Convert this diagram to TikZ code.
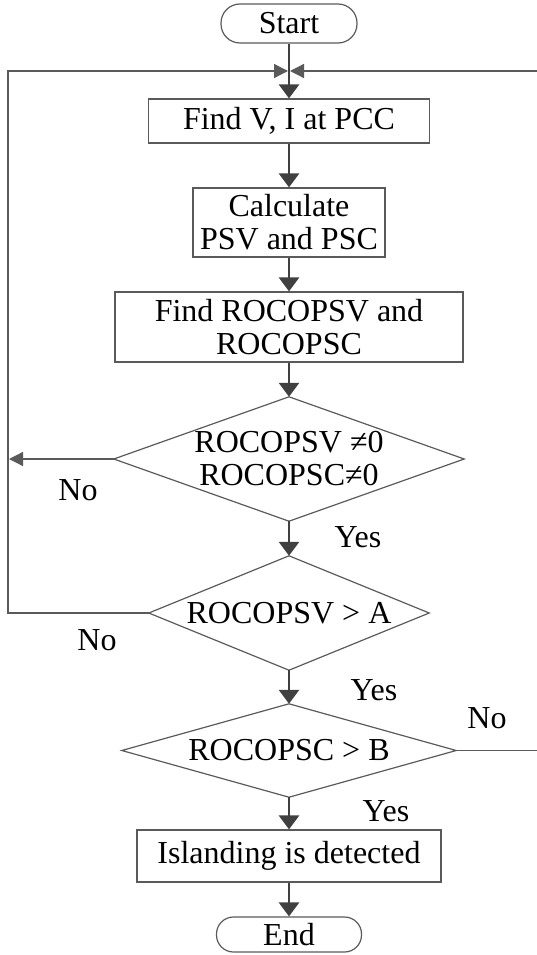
\documentclass[tikz,border=0pt]{standalone}
\usepackage{fontspec}
\setmainfont{Liberation Serif}
\usetikzlibrary{arrows.meta}
\definecolor{linegray}{HTML}{404040}
\definecolor{boxgray}{HTML}{5A5A5A}
\begin{document}
\begin{tikzpicture}[x=1pt, y=-1pt, font=\fontsize{32}{33}\selectfont]
        \tikzstyle{term} = [draw=boxgray, line width=1.2pt, inner sep=0pt, align=center]
        \tikzstyle{proc} = [draw=boxgray, line width=1.2pt, inner sep=0pt, align=center]
        \tikzstyle{dec} = [inner sep=0pt, align=center]
        \tikzstyle{diam} = [draw=boxgray, line width=1.2pt]
        \tikzstyle{arr} = [draw=linegray, line width=2.8pt, -{Triangle[width=20pt, length=14pt]}]
        \tikzstyle{fb} = [draw=boxgray, line width=1.3pt, -{Triangle[width=14pt, length=14pt]}, shorten >=1pt]
        \useasboundingbox (0,0) rectangle (536,955);
        \node[term, minimum width=136, minimum height=39, rounded corners=19pt] (start) at (289,23.5) {Start};
        \node[proc, minimum width=281, minimum height=44] (find) at (289,121) {Find V, I at PCC};
        \node[proc, minimum width=192, minimum height=69] (calc) at (289,222.5) {Calculate\\PSV and PSC};
        \node[proc, minimum width=348, minimum height=70] (roco) at (289,327) {Find ROCOPSV and\\ROCOPSC};
        \node[dec, minimum width=350, minimum height=124] (d1) at (289,459) {ROCOPSV ≠0\\ROCOPSC≠0};
        \node[dec, minimum width=280, minimum height=114] (d2) at (289,613) {ROCOPSV > A};
        \node[dec, minimum width=334, minimum height=93] (d3) at (289,750.5) {ROCOPSC > B};
        \node[proc, minimum width=304, minimum height=52] (isl) at (289,856) {Islanding is detected};
        \node[term, minimum width=145, minimum height=35, rounded corners=17pt] (end) at (289,934.5) {End};
        \foreach \d in {d1,d2,d3}
          \draw[diam] (\d.north) -- (\d.east) -- (\d.south) -- (\d.west) -- cycle;
        \coordinate (lt) at (8,71);
        \coordinate (rt) at (537.5,71);
        \coordinate (top) at (289,71);
        \draw[fb] (d2.west) -| (lt) -- (top);
        \draw[fb] (d3.east) -| (rt) -- (top);
        \draw[fb] (d1.west) -- (d1.west -| lt);
        \draw[arr] (start) -- (find);
        \draw[arr] (find) -- (calc);
        \draw[arr] (calc) -- (roco);
        \draw[arr] (roco) -- (d1.north);
        \draw[arr] (d1.south) -- (d2.north);
        \draw[arr] (d2.south) -- (d3.north);
        \draw[arr] (d3.south) -- (isl);
        \draw[arr] (isl) -- (end);
        \node (no1) at (78,490) {No};
        \node (yes1) at (358,537) {Yes};
        \node (no2) at (97,640) {No};
        \node (yes2) at (374,690) {Yes};
        \node (no3) at (487,718) {No};
        \node (yes3) at (386,811) {Yes};
      \end{tikzpicture}
\end{document}
